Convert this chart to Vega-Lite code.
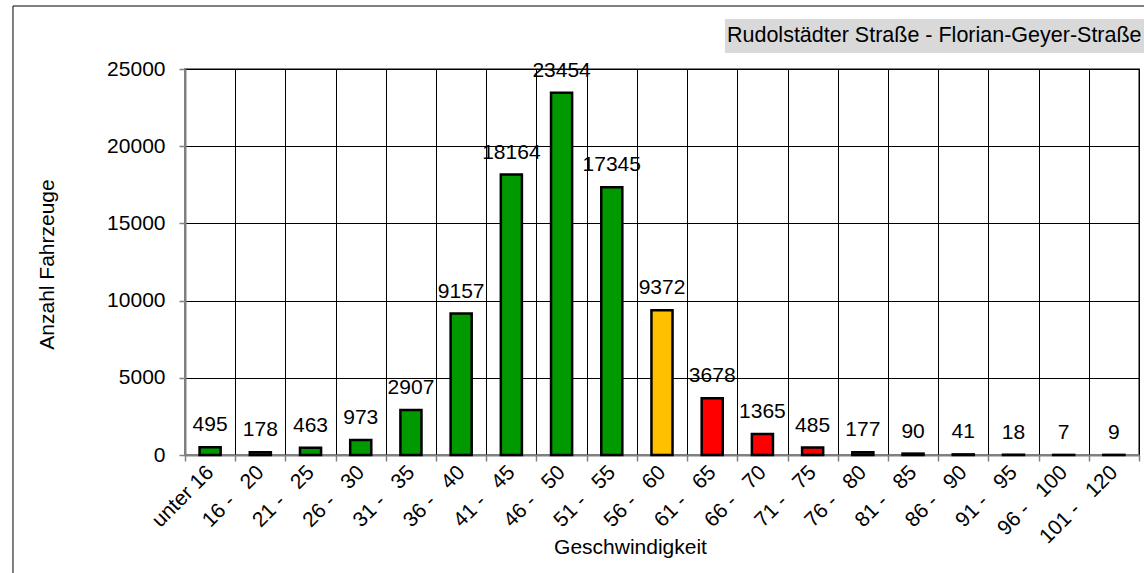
{
  "$schema": "https://vega.github.io/schema/vega-lite/v6.json",
  "width": 954,
  "height": 386,
  "autosize": {"type": "none"},
  "padding": {"left": 185, "top": 69, "right": 5, "bottom": 118},
  "background": "white",
  "config": {
    "font": "Liberation Sans",
    "view": {"stroke": "#808080", "strokeWidth": 2}
  },
  "datasets": {
    "speeds": [
      {"Geschwindigkeit": "unter 16", "Anzahl": 495, "Bereich": "grün"},
      {"Geschwindigkeit": "16 - \u00a0\u00a020", "Anzahl": 178, "Bereich": "grün"},
      {"Geschwindigkeit": "21 - \u00a0\u00a025", "Anzahl": 463, "Bereich": "grün"},
      {"Geschwindigkeit": "26 - \u00a0\u00a030", "Anzahl": 973, "Bereich": "grün"},
      {"Geschwindigkeit": "31 - \u00a0\u00a035", "Anzahl": 2907, "Bereich": "grün"},
      {"Geschwindigkeit": "36 - \u00a0\u00a040", "Anzahl": 9157, "Bereich": "grün"},
      {"Geschwindigkeit": "41 - \u00a0\u00a045", "Anzahl": 18164, "Bereich": "grün"},
      {"Geschwindigkeit": "46 - \u00a0\u00a050", "Anzahl": 23454, "Bereich": "grün"},
      {"Geschwindigkeit": "51 - \u00a0\u00a055", "Anzahl": 17345, "Bereich": "grün"},
      {"Geschwindigkeit": "56 - \u00a0\u00a060", "Anzahl": 9372, "Bereich": "gelb"},
      {"Geschwindigkeit": "61 - \u00a0\u00a065", "Anzahl": 3678, "Bereich": "rot"},
      {"Geschwindigkeit": "66 - \u00a0\u00a070", "Anzahl": 1365, "Bereich": "rot"},
      {"Geschwindigkeit": "71 - \u00a0\u00a075", "Anzahl": 485, "Bereich": "rot"},
      {"Geschwindigkeit": "76 - \u00a0\u00a080", "Anzahl": 177, "Bereich": "rot"},
      {"Geschwindigkeit": "81 - \u00a0\u00a085", "Anzahl": 90, "Bereich": "rot"},
      {"Geschwindigkeit": "86 - \u00a0\u00a090", "Anzahl": 41, "Bereich": "rot"},
      {"Geschwindigkeit": "91 - \u00a0\u00a095", "Anzahl": 18, "Bereich": "rot"},
      {"Geschwindigkeit": "96 - \u00a0\u00a0100", "Anzahl": 7, "Bereich": "rot"},
      {"Geschwindigkeit": "101 - \u00a0\u00a0120", "Anzahl": 9, "Bereich": "rot"}
    ],
    "heading": [
      {"Titel": "Rudolstädter Straße - Florian-Geyer-Straße"}
    ]
  },
  "layer": [
    {
      "data": {"name": "heading"},
      "mark": {"type": "rect", "fill": null, "fillOpacity": 0, "stroke": "#000000", "strokeWidth": 1},
      "encoding": {
        "x": {"datum": -0.1803, "type": "quantitative", "scale": {"domain": [0, 1], "nice": false, "zero": false}, "axis": null},
        "x2": {"datum": 1.0126},
        "y": {"datum": 1.1632, "type": "quantitative", "scale": {"domain": [0, 1], "nice": false, "zero": false}, "axis": null},
        "y2": {"datum": -0.3238}
      }
    },
    {
      "data": {"name": "heading"},
      "mark": {"type": "rect", "fill": "#d9d9d9", "stroke": null},
      "encoding": {
        "x": {"datum": 0.566, "type": "quantitative", "scale": {"domain": [0, 1], "nice": false, "zero": false}, "axis": null},
        "x2": {"datum": 1.0126},
        "y": {"datum": 1.1295, "type": "quantitative", "scale": {"domain": [0, 1], "nice": false, "zero": false}, "axis": null},
        "y2": {"datum": 1.0415}
      }
    },
    {
      "data": {"name": "heading"},
      "mark": {"type": "text", "align": "left", "baseline": "alphabetic", "fontSize": 21.5, "color": "#000000"},
      "encoding": {
        "x": {"datum": 0.5681, "type": "quantitative", "scale": {"domain": [0, 1], "nice": false, "zero": false}, "axis": null},
        "y": {"datum": 1.0699, "type": "quantitative", "scale": {"domain": [0, 1], "nice": false, "zero": false}, "axis": null},
        "text": {"field": "Titel"}
      }
    },
    {
      "data": {"name": "speeds"},
      "encoding": {
        "x": {
          "field": "Geschwindigkeit",
          "type": "nominal",
          "sort": null,
          "scale": {"paddingInner": 0, "paddingOuter": 0},
          "axis": {
            "title": "Geschwindigkeit",
            "titleFontSize": 21,
            "titleFontWeight": "normal",
            "titleColor": "#000000",
            "titleX": 445,
            "titleY": 98,
            "titleBaseline": "alphabetic",
            "titleAlign": "center",
            "labelAngle": -45,
            "labelAlign": "right",
            "labelBaseline": "middle",
            "labelFontSize": 21,
            "labelColor": "#000000",
            "labelPadding": 8,
            "labelOverlap": false,
            "labelLimit": 0,
            "tickBand": "extent",
            "tickSize": 6,
            "tickColor": "#808080",
            "tickWidth": 1.5,
            "domainColor": "#808080",
            "domainWidth": 2,
            "grid": true,
            "gridColor": "#000000",
            "gridWidth": 1,
            "gridOpacity": 1
          }
        },
        "y": {
          "field": "Anzahl",
          "type": "quantitative",
          "scale": {"domain": [0, 25000], "nice": false},
          "axis": {
            "title": "Anzahl Fahrzeuge",
            "titleFontSize": 21,
            "titleFontWeight": "normal",
            "titleColor": "#000000",
            "titleX": -132,
            "titleY": 195,
            "titleAlign": "center",
            "titleBaseline": "alphabetic",
            "values": [0, 5000, 10000, 15000, 20000, 25000],
            "format": "d",
            "labelFontSize": 21,
            "labelColor": "#000000",
            "labelPadding": 14,
            "tickSize": 6,
            "tickColor": "#808080",
            "tickWidth": 1.5,
            "domainColor": "#808080",
            "domainWidth": 2,
            "grid": true,
            "gridColor": "#000000",
            "gridWidth": 1,
            "gridOpacity": 1
          }
        }
      },
      "layer": [
        {
          "mark": {"type": "bar", "width": {"band": 0.42}, "stroke": "#000000", "strokeWidth": 2.5},
          "encoding": {
            "color": {
              "field": "Bereich",
              "type": "nominal",
              "scale": {"domain": ["grün", "gelb", "rot"], "range": ["#009900", "#ffc000", "#ff0000"]},
              "legend": null
            }
          }
        },
        {
          "mark": {"type": "text", "baseline": "alphabetic", "align": "center", "dy": -16, "fontSize": 21, "color": "#000000"},
          "encoding": {
            "text": {"field": "Anzahl", "type": "quantitative", "format": "d"}
          }
        }
      ]
    }
  ],
  "resolve": {"scale": {"x": "independent", "y": "independent"}}
}
